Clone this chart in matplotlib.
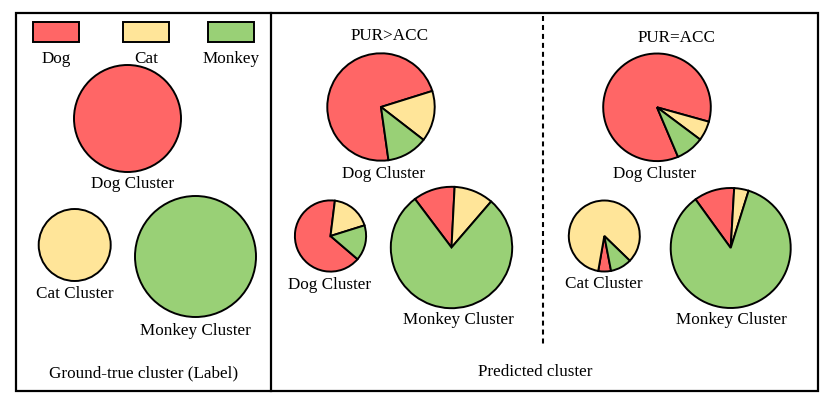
import matplotlib.pyplot as plt
import matplotlib.patches as mpatches

# ── data ──
classes = ["Dog", "Cat", "Monkey"]
class_colors = ["#FF6666", "#FFE599", "#99D076"]

# predicted cluster composition (% Dog, Cat, Monkey)
pur_gt_dog = [72.4, 15.3, 12.3]
pur_gt_dog_small = [65.7, 18.2, 16.1]
pur_gt_monkey = [11.1, 10.5, 78.4]
pur_eq_dog = [85.7, 5.9, 8.4]
pur_eq_cat = [5.8, 84.5, 9.7]
pur_eq_monkey = [10.9, 3.9, 85.2]

W, H = 830, 406
FONT = "Liberation Serif"
FS = 12.3
EDGE = {"edgecolor": "black", "linewidth": 1.4}

fig = plt.figure(figsize=(W / 100, H / 100), dpi=100)
ax = fig.add_axes([0, 0, 1, 1])


def Y(y):
    # pixel-from-top -> data y
    return H - y


def label(x, y, s):
    ax.text(x, Y(y), s, ha="center", va="baseline", fontsize=FS,
            family=FONT, color="black")


def pie(values, cx, cy, r, start):
    ax.pie(values, colors=class_colors, center=(cx, Y(cy)), radius=r,
           startangle=start, counterclock=False, wedgeprops=EDGE)


# outer frame and dividers
ax.add_patch(mpatches.Rectangle((16, Y(391.5)), 802, 377.5, fill=False,
                                edgecolor="black", linewidth=1.6, zorder=5))
ax.plot([271, 271], [Y(14), Y(391.5)], color="black", linewidth=1.6, zorder=5)
ax.plot([543, 543], [Y(17), Y(345)], color="black", linewidth=1.5,
        linestyle=(0, (2.4, 1.9)))

# legend
for name, color, x0 in zip(classes, class_colors, [33, 123, 208]):
    ax.add_patch(mpatches.Rectangle((x0, Y(43)), 46, 20, facecolor=color,
                                    edgecolor="black", linewidth=1.4))
    label(x0 + 23, 63, name)

# ground-truth clusters
ax.add_patch(mpatches.Circle((127.5, Y(119.5)), 53.5, facecolor=class_colors[0], **EDGE))
label(133, 188, "Dog Cluster")
ax.add_patch(mpatches.Circle((74.7, Y(246)), 36, facecolor=class_colors[1], **EDGE))
label(75, 298, "Cat Cluster")
ax.add_patch(mpatches.Circle((195.5, Y(257.5)), 60.5, facecolor=class_colors[2], **EDGE))
label(195, 335, "Monkey Cluster")
label(144, 377, "Ground-true cluster (Label)")

# PUR > ACC
label(390, 40, "PUR>ACC")
pie(pur_gt_dog, 381, 108, 53.7, 278)
label(384, 178, "Dog Cluster")
pie(pur_gt_dog_small, 330.5, 237, 35.6, -40.6)
label(330, 289, "Dog Cluster")
pie(pur_gt_monkey, 451.5, 248.5, 60.7, 127)
label(458, 324, "Monkey Cluster")

# PUR = ACC
label(677, 41.5, "PUR=ACC")
pie(pur_eq_dog, 657, 108.3, 53.8, -67)
label(655, 178, "Dog Cluster")
pie(pur_eq_cat, 604.3, 237, 35.5, -79)
label(604, 288.5, "Cat Cluster")
pie(pur_eq_monkey, 730.7, 249, 60, 125.9)
label(731, 324, "Monkey Cluster")

label(535.5, 376, "Predicted cluster")

ax.set_xlim(0, W)
ax.set_ylim(0, H)
ax.set_aspect("auto")
ax.axis("off")

fig.savefig("out.png", dpi=100)
